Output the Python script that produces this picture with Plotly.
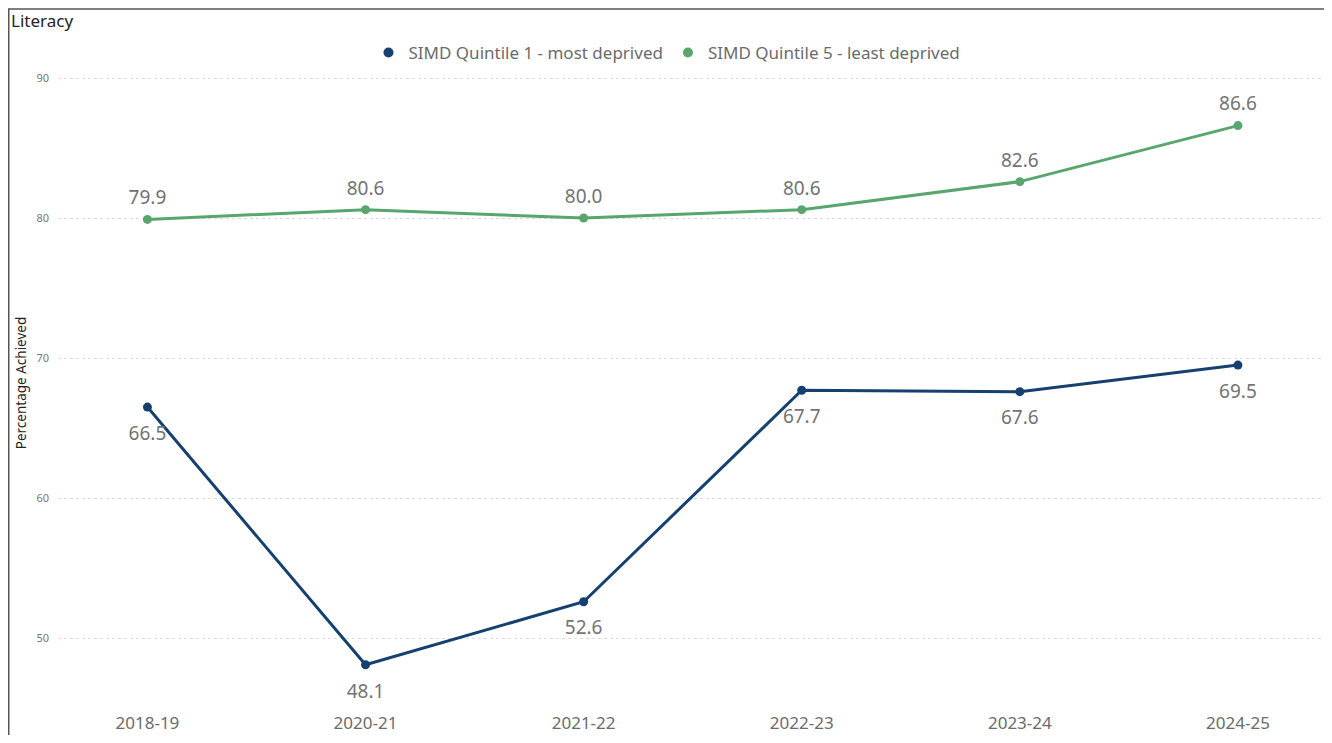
import plotly.graph_objects as go

years = ["2018-19", "2020-21", "2021-22", "2022-23", "2023-24", "2024-25"]
q1_most_deprived = [66.5, 48.1, 52.6, 67.7, 67.6, 69.5]
q5_least_deprived = [79.9, 80.6, 80.0, 80.6, 82.6, 86.6]
y_ticks = [50, 60, 70, 80, 90]

BLUE = "#15406F"
GREEN = "#58A66E"
FONT = "Noto Sans"
LABEL_FONT = dict(size=19, color="#737373", family=FONT)

OFF = 8  # page body margin
W, H = 1316, 727
L = 58 - OFF
T = 64 - OFF
R = W - (1323 - OFF)
B = H - (704 - OFF)
pw, ph = W - L - R, H - T - B

def px_x(p):  # p = page pixel in reference
    return (p - OFF - L) / pw

def px_y(p):
    return (H - B - (p - OFF)) / ph

fig = go.Figure()

fig.add_trace(go.Scatter(
    x=years, y=q1_most_deprived, mode="lines+markers",
    name="SIMD Quintile 1 - most deprived",
    line=dict(color=BLUE, width=3), marker=dict(color=BLUE, size=9),
    showlegend=False, cliponaxis=False,
))
fig.add_trace(go.Scatter(
    x=years, y=q5_least_deprived, mode="lines+markers",
    name="SIMD Quintile 5 - least deprived",
    line=dict(color=GREEN, width=3), marker=dict(color=GREEN, size=9),
    showlegend=False, cliponaxis=False,
))
# data labels (transparent markers set the label offset)
fig.add_trace(go.Scatter(
    x=years, y=q1_most_deprived, mode="markers+text", hoverinfo="skip",
    marker=dict(size=28, color="rgba(0,0,0,0)"),
    text=[f"{v:.1f}" for v in q1_most_deprived], textposition="bottom center",
    textfont=LABEL_FONT, showlegend=False, cliponaxis=False,
))
fig.add_trace(go.Scatter(
    x=years, y=q5_least_deprived, mode="markers+text", hoverinfo="skip",
    marker=dict(size=15, color="rgba(0,0,0,0)"),
    text=[f"{v:.1f}" for v in q5_least_deprived], textposition="top center",
    textfont=LABEL_FONT, showlegend=False, cliponaxis=False,
))
# legend entries (dot only)
fig.add_trace(go.Scatter(x=[None], y=[None], mode="markers", name="SIMD Quintile 1 - most deprived",
                         marker=dict(color=BLUE, size=10)))
fig.add_trace(go.Scatter(x=[None], y=[None], mode="markers", name="SIMD Quintile 5 - least deprived",
                         marker=dict(color=GREEN, size=10)))

fig.update_layout(
    width=W, height=H,
    margin=dict(l=L, r=R, t=T, b=B),
    plot_bgcolor="white", paper_bgcolor="white",
    font=dict(family=FONT, color="#666666"),
    legend=dict(orientation="h", x=px_x(667), xanchor="center", y=px_y(53), yanchor="middle",
                font=dict(size=17, color="#6b6b6b", family=FONT), itemwidth=30,
                tracegroupgap=0, bgcolor="rgba(0,0,0,0)"),
    xaxis=dict(type="category", range=[-0.41, 5.39], showgrid=False, zeroline=False,
               showline=False, tickfont=dict(size=17, color="#6b6b6b", family=FONT),
               ticklabelstandoff=9),
    yaxis=dict(range=[45.44, 91.0], tickvals=y_ticks, showgrid=True,
               gridcolor="#dcdcdc", griddash="dot", gridwidth=1, zeroline=False,
               showline=False, tickfont=dict(size=11, color="#777777", family=FONT),
               ticklabelstandoff=8,
               title=dict(text="Percentage Achieved", font=dict(size=13.5, color="#252423", family=FONT),
                          standoff=6)),
    annotations=[dict(text="Literacy", xref="paper", yref="paper", x=px_x(9), y=px_y(20),
                      xanchor="left", yanchor="middle", showarrow=False,
                      font=dict(size=17, color="#252423", family=FONT))],
    shapes=[dict(type="rect", xref="paper", yref="paper",
                 x0=px_x(8.75), x1=px_x(1330), y0=px_y(760), y1=px_y(8.75),
                 line=dict(color="#555555", width=1.5), fillcolor="rgba(0,0,0,0)", layer="below")],
)

fig.write_html("out.html")
